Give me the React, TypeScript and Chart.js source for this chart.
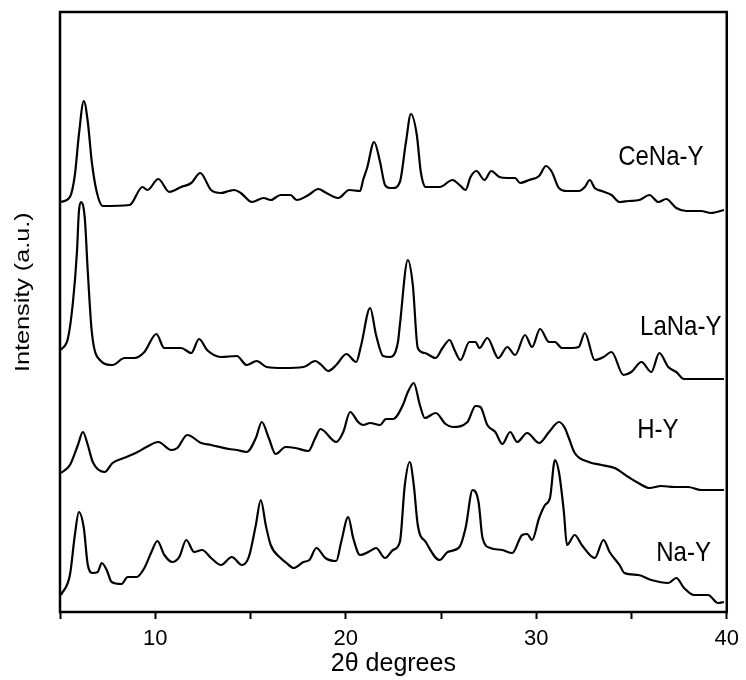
import React, { useEffect, useRef } from "react";
import { Chart, registerables } from "chart.js";

Chart.register(...registerables);

// 2θ (degrees) vs intensity (a.u., curves stacked with vertical offsets)
const ceNaY: [number, number][] = [
  [5.05, 424], [5.52, 429], [5.78, 451], [5.99, 491], [6.25, 525], [6.46, 504], [6.67, 464], [6.93, 434],
  [7.24, 420], [8.65, 421], [9.33, 439], [9.59, 436], [10.16, 447], [10.74, 434], [11.36, 439], [11.89, 443],
  [12.36, 453], [12.93, 436], [13.45, 433], [13.87, 435], [14.13, 436], [14.49, 433], [15.07, 424], [15.69, 428],
  [16.06, 426], [16.58, 431], [17.1, 431], [17.42, 426], [18.04, 431], [18.56, 437], [18.98, 433], [19.61, 428],
  [20.18, 436], [20.75, 435], [20.91, 446], [21.12, 458], [21.49, 484], [21.8, 464], [22.06, 441], [22.32, 438],
  [22.48, 438], [22.84, 444], [23.16, 484], [23.42, 512], [23.73, 491], [23.94, 454], [24.2, 439], [24.93, 439],
  [25.61, 446], [25.97, 441], [26.29, 436], [26.55, 449], [26.86, 455], [27.28, 446], [27.64, 455], [28.06, 449],
  [28.48, 448], [28.89, 448], [29.15, 443], [29.62, 446], [30.15, 450], [30.51, 460], [30.82, 454], [31.19, 438],
  [31.61, 435], [32.23, 435], [32.55, 439], [32.81, 446], [33.07, 438], [33.43, 435], [33.95, 431], [34.37, 424],
  [34.84, 425], [35.41, 426], [35.94, 431], [36.41, 424], [36.82, 427], [37.35, 418], [37.87, 415], [38.65, 415],
  [39.17, 413], [39.85, 416],
];

const laNaY: [number, number][] = [
  [5.05, 276], [5.42, 288], [5.68, 324], [5.89, 374], [5.99, 414], [6.1, 424], [6.3, 408], [6.46, 354],
  [6.67, 294], [7.09, 266], [7.76, 261], [8.39, 268], [8.91, 268], [9.43, 274], [10.06, 292], [10.47, 278],
  [11.36, 278], [11.89, 273], [12.3, 287], [12.72, 276], [13.45, 269], [14.28, 270], [14.8, 261], [15.32, 265],
  [15.85, 259], [16.73, 258], [17.78, 259], [18.4, 265], [18.72, 261], [19.08, 255], [19.5, 261], [20.03, 272],
  [20.55, 264], [20.81, 281], [21.28, 318], [21.59, 291], [21.96, 270], [22.32, 269], [22.74, 284], [22.84, 301],
  [23.26, 366], [23.52, 341], [23.78, 278], [24.15, 273], [24.72, 268], [25.08, 278], [25.45, 286], [25.71, 276],
  [26.02, 266], [26.49, 284], [26.81, 284], [27.02, 278], [27.43, 288], [28.01, 268], [28.48, 279], [28.89, 271],
  [29.41, 291], [29.78, 279], [30.2, 297], [30.67, 284], [30.98, 284], [31.35, 278], [31.87, 278], [32.23, 279],
  [32.55, 293], [33.07, 266], [33.53, 269], [33.95, 274], [34.58, 251], [34.99, 254], [35.52, 264], [36.04, 254],
  [36.46, 273], [36.93, 259], [37.35, 254], [37.76, 247], [38.65, 247], [39.85, 247],
];

const hY: [number, number][] = [
  [5.05, 153], [5.52, 161], [5.94, 181], [6.2, 194], [6.46, 181], [6.72, 164], [7.35, 154], [7.76, 163],
  [8.49, 169], [9.07, 174], [9.54, 179], [10.16, 184], [10.84, 176], [11.16, 178], [11.68, 191], [12.41, 183],
  [12.93, 181], [13.87, 177], [14.28, 176], [14.8, 174], [15.28, 188], [15.59, 204], [15.96, 188], [16.32, 172],
  [16.84, 179], [17.36, 178], [18.04, 175], [18.4, 188], [18.67, 197], [19.5, 184], [19.87, 194], [20.23, 214],
  [20.65, 204], [20.91, 201], [21.28, 203], [21.8, 201], [22.11, 207], [22.48, 207], [23.0, 221], [23.26, 234],
  [23.57, 243], [23.89, 221], [24.15, 208], [24.72, 213], [25.24, 202], [25.61, 199], [26.39, 204], [26.81, 220],
  [27.07, 219], [27.43, 201], [27.85, 194], [28.22, 182], [28.63, 194], [29.0, 184], [29.52, 193], [30.15, 183],
  [30.67, 194], [31.19, 204], [31.5, 198], [31.71, 188], [32.02, 173], [32.76, 164], [33.43, 161], [34.11, 158],
  [34.84, 149], [35.36, 143], [35.94, 138], [36.56, 140], [37.24, 139], [37.97, 139], [38.65, 136], [39.85, 136],
];

const naY: [number, number][] = [
  [5.05, 31], [5.52, 51], [5.78, 91], [5.99, 114], [6.25, 98], [6.46, 61], [6.72, 53], [6.98, 54],
  [7.19, 63], [7.45, 56], [7.71, 44], [8.23, 42], [8.55, 49], [9.02, 49], [9.43, 58], [9.8, 74],
  [10.11, 85], [10.48, 71], [10.89, 64], [11.26, 69], [11.63, 86], [12.04, 74], [12.46, 76], [12.93, 68],
  [13.45, 61], [14.02, 69], [14.55, 61], [14.91, 69], [15.28, 101], [15.54, 126], [15.8, 101], [16.06, 81],
  [16.58, 68], [16.89, 63], [17.26, 58], [17.78, 64], [18.09, 66], [18.46, 78], [18.93, 68], [19.5, 65],
  [19.76, 84], [20.13, 109], [20.39, 88], [20.75, 71], [21.28, 75], [21.59, 78], [22.06, 68], [22.48, 76],
  [22.84, 84], [23.1, 141], [23.36, 164], [23.57, 141], [23.78, 101], [24.2, 84], [24.93, 66], [25.35, 74],
  [25.97, 79], [26.29, 98], [26.66, 136], [26.97, 124], [27.18, 88], [27.59, 78], [28.22, 76], [28.74, 73],
  [29.26, 91], [29.52, 92], [29.78, 86], [30.15, 108], [30.46, 121], [30.72, 128], [30.98, 166], [31.19, 154],
  [31.45, 114], [31.61, 81], [32.02, 91], [32.39, 81], [33.07, 68], [33.53, 86], [33.85, 74], [34.37, 61],
  [34.63, 53], [35.36, 51], [36.04, 46], [36.93, 43], [37.35, 48], [37.76, 38], [38.28, 31], [39.02, 31],
  [39.54, 23], [39.85, 24],
];

const seriesNames = ["CeNa-Y", "LaNa-Y", "H-Y", "Na-Y"];
const seriesData = [ceNaY, laNaY, hY, naY];
const X_MIN = 5;
const X_MAX = 40;
const X_STEP = 5;
const X_LABELED = [10, 20, 30, 40];
const Y_MIN = 14;
const Y_MAX = 614;
const X_TITLE = "2θ degrees";
const Y_TITLE = "Intensity (a.u.)";

// label anchors: [x in 2θ, y in a.u.]
const labelAnchors: [number, number][] = [
  [34.3, 461],
  [35.45, 291],
  [35.3, 188],
  [36.3, 65],
];

const FONT = "'Liberation Sans', Arial, Helvetica, sans-serif";

export default function App() {
  const ref = useRef<HTMLCanvasElement | null>(null);

  useEffect(() => {
    if (!ref.current) return;
    const textPlugin = {
      id: "xrdText",
      afterDraw(chart: any) {
        const ctx = chart.ctx as CanvasRenderingContext2D;
        const { left, top, right, bottom } = chart.chartArea;
        const xs = chart.scales.x;
        const ys = chart.scales.y;
        ctx.save();
        // frame
        ctx.strokeStyle = "#000";
        ctx.lineWidth = 2.5;
        ctx.strokeRect(left, top, right - left, bottom - top);
        // series labels
        ctx.fillStyle = "#000";
        ctx.font = `24px ${FONT}`;
        ctx.textAlign = "left";
        ctx.textBaseline = "alphabetic";
        seriesNames.forEach((name, i) => {
          const [lx, ly] = labelAnchors[i];
          ctx.save();
          ctx.translate(xs.getPixelForValue(lx), ys.getPixelForValue(ly));
          ctx.scale(1, 1.18);
          ctx.fillText(name, 0, 0);
          ctx.restore();
        });
        // y title
        ctx.save();
        ctx.font = `21px ${FONT}`;
        ctx.translate(28.5, 372);
        ctx.rotate(-Math.PI / 2);
        ctx.scale(1.2, 1);
        ctx.fillText(Y_TITLE, 0, 0);
        ctx.restore();
        ctx.restore();
      },
    };

    const chart = new Chart(ref.current, {
      type: "line",
      data: {
        datasets: seriesData.map((d, i) => ({
          label: seriesNames[i],
          data: d.map(([x, y]) => ({ x, y })),
          borderColor: "#000",
          borderWidth: 2.2,
          pointRadius: 0,
          fill: false,
          cubicInterpolationMode: "monotone" as const,
        })),
      },
      options: {
        responsive: false,
        animation: false,
        events: [],
        layout: { padding: { left: 60, right: 17, top: 12, bottom: 0 } },
        plugins: { legend: { display: false }, tooltip: { enabled: false } },
        scales: {
          x: {
            type: "linear",
            min: X_MIN,
            max: X_MAX,
            afterFit: (s: any) => {
              s.height = 68;
            },
            afterBuildTicks: (s: any) => {
              const t = [];
              for (let v = X_MIN; v <= X_MAX; v += X_STEP) t.push({ value: v });
              s.ticks = t;
            },
            border: { display: false },
            grid: {
              drawOnChartArea: false,
              drawTicks: true,
              tickLength: 7,
              tickWidth: 2,
              tickColor: "#000",
            },
            ticks: {
              color: "#000",
              padding: 7,
              maxRotation: 0,
              font: { family: FONT, size: 22 },
              callback: (v: any) => (X_LABELED.includes(Number(v)) ? String(v) : ""),
            },
            title: {
              display: true,
              text: X_TITLE,
              color: "#000",
              font: { family: FONT, size: 25 },
              padding: { top: 0, bottom: 1 },
            },
          },
          y: {
            display: false,
            min: Y_MIN,
            max: Y_MAX,
          },
        },
      },
      plugins: [textPlugin],
    });
    return () => chart.destroy();
  }, []);

  return (
    <div style={{ position: "fixed", left: 0, top: 0, width: 746, height: 680, background: "#fff" }}>
      <canvas ref={ref} width={746} height={680} />
    </div>
  );
}
